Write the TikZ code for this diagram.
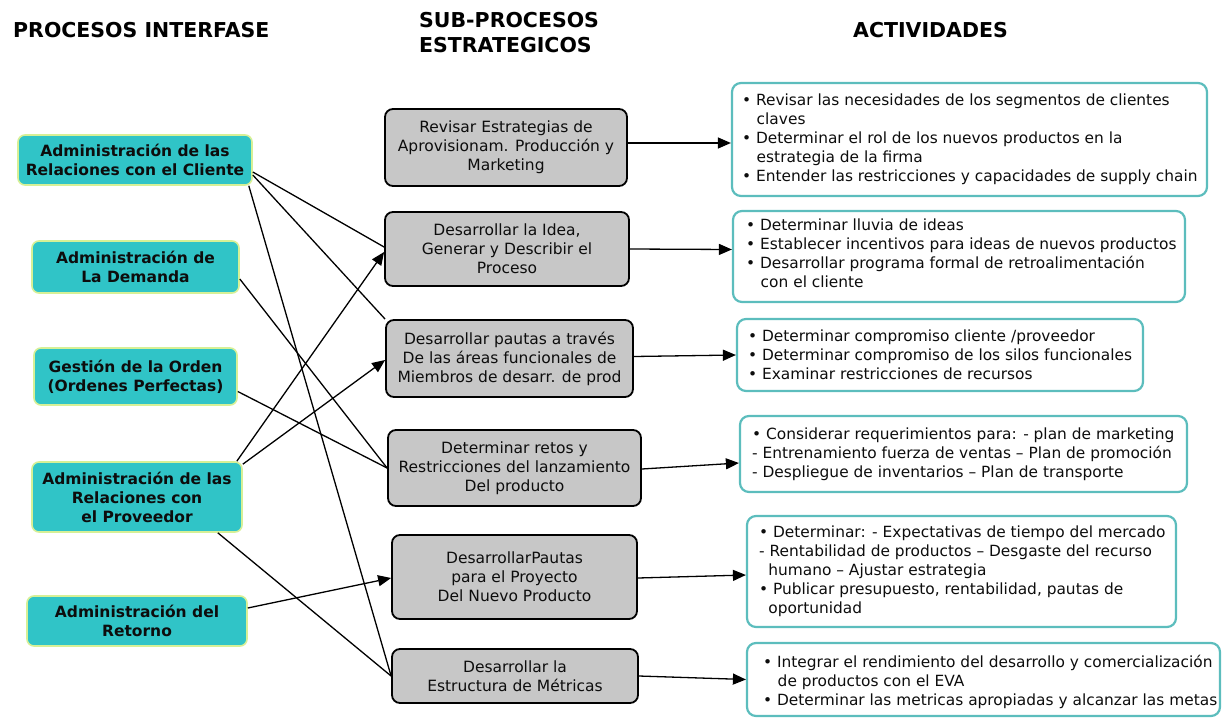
\documentclass[tikz,border=0pt]{standalone}
\usepackage{fontspec}
\setmainfont{DejaVu Sans}
\usetikzlibrary{arrows.meta}

\definecolor{tealfill}{RGB}{48,196,199}
\definecolor{tealglow}{RGB}{214,240,150}
\definecolor{greyfill}{RGB}{199,199,199}
\definecolor{actline}{RGB}{92,189,189}

\newcommand{\bul}{•\ }
\newcommand{\hang}{\hspace*{0.95em}}

\begin{document}
\begin{tikzpicture}[x=1pt,y=-1pt,
  interfase/.style={draw=tealglow, line width=1.6pt, fill=tealfill, rounded corners=7pt,
    align=center, font=\bfseries\fontsize{15.5}{19}\selectfont, inner sep=0pt, text=black!95},
  subproc/.style={draw=black, line width=1.8pt, fill=greyfill, rounded corners=8pt,
    align=center, font=\fontsize{15.5}{19}\selectfont, inner sep=0pt, text=black!95},
  actbox/.style={draw=actline, line width=2.2pt, rounded corners=9pt, fill=white, inner sep=0pt},
  acttext/.style={anchor=west, align=left, font=\fontsize{15.4}{19}\selectfont, inner sep=0pt, text=black!95},
  heading/.style={font=\bfseries\fontsize{20.5}{24.5}\selectfont, inner sep=0pt},
  link/.style={line width=1.3pt},
  flow/.style={line width=1.3pt, -{Triangle[length=13pt,width=11pt]}},
]
\useasboundingbox (0,0) rectangle (1225,717);

% column headings
\node[heading, anchor=west] (h1) at (13,30.5) {PROCESOS INTERFASE};
\node[heading, anchor=west, align=left] (h2) at (419,32.4) {SUB-PROCESOS\\ESTRATEGICOS};
\node[heading, anchor=west] (h3) at (853,30.5) {ACTIVIDADES};

% interface processes
\node[interfase, minimum width=234pt, minimum height=50pt] (l1) at (135,160)
  {Administración de las\\Relaciones con el Cliente};
\node[interfase, minimum width=207pt, minimum height=52pt] (l2) at (135.5,267)
  {Administración de\\La Demanda};
\node[interfase, minimum width=203pt, minimum height=57pt] (l3) at (135.5,376.5)
  {Gestión de la Orden\\(Ordenes Perfectas)};
\node[interfase, minimum width=210pt, minimum height=70pt] (l4) at (137,497)
  {Administración de las\\Relaciones con\\el Proveedor};
\node[interfase, minimum width=220pt, minimum height=50pt] (l5) at (137,621)
  {Administración del\\Retorno};

% strategic sub-processes
\node[subproc, minimum width=242pt, minimum height=77pt] (m1) at (506,147.5)
  {Revisar Estrategias de\\Aprovisionam. Producción y\\Marketing};
\node[subproc, minimum width=244pt, minimum height=74pt] (m2) at (507,249)
  {Desarrollar la Idea,\\Generar y Describir el\\Proceso};
\node[subproc, minimum width=247pt, minimum height=77pt] (m3) at (509.5,358.5)
  {Desarrollar pautas a través\\De las áreas funcionales de\\Miembros de desarr. de prod};
\node[subproc, minimum width=253pt, minimum height=76pt] (m4) at (514.5,468)
  {Determinar retos y\\Restricciones del lanzamiento\\Del producto};
\node[subproc, minimum width=245pt, minimum height=84pt] (m5) at (514.5,577)
  {DesarrollarPautas\\para el Proyecto\\Del Nuevo Producto};
\node[subproc, minimum width=246pt, minimum height=54pt] (m6) at (515,676)
  {Desarrollar la\\Estructura de Métricas};

% activity frames
\node[actbox, minimum width=475pt, minimum height=113pt] (r1) at (969.5,139.5) {};
\node[actbox, minimum width=452pt, minimum height=91pt] (r2) at (959,256.5) {};
\node[actbox, minimum width=406pt, minimum height=72pt] (r3) at (940,355) {};
\node[actbox, minimum width=447pt, minimum height=76pt] (r4) at (963.5,454) {};
\node[actbox, minimum width=429pt, minimum height=111pt] (r5) at (961.5,571.5) {};
\node[actbox, minimum width=473pt, minimum height=73pt] (r6) at (983.5,679.5) {};

% activity texts
\node[acttext] (r1t) at ([xshift=11pt]r1.west)
  {\bul Revisar las necesidades de los segmentos de clientes\\
   \hang claves\\
   \bul Determinar el rol de los nuevos productos en la\\
   \hang estrategia de la firma\\
   \bul Entender las restricciones y capacidades de supply chain};
\node[acttext] (r2t) at ([xshift=14pt,yshift=3.5pt]r2.west)
  {\bul Determinar lluvia de ideas\\
   \bul Establecer incentivos para ideas de nuevos productos\\
   \bul Desarrollar programa formal de retroalimentación\\
   \hang con el cliente};
\node[acttext] (r3t) at ([xshift=12pt]r3.west)
  {\bul Determinar compromiso cliente /proveedor\\
   \bul Determinar compromiso de los silos funcionales\\
   \bul Examinar restricciones de recursos};
\node[acttext] (r4t) at ([xshift=13pt]r4.west)
  {\bul Considerar requerimientos para: - plan de marketing\\
   - Entrenamiento fuerza de ventas – Plan de promoción\\
   - Despliegue de inventarios – Plan de transporte};
\node[acttext] (r5t) at ([xshift=13pt]r5.west)
  {\bul Determinar: - Expectativas de tiempo del mercado\\
   - Rentabilidad de productos – Desgaste del recurso\\
   \hspace*{0.6em}humano – Ajustar estrategia\\
   \bul Publicar presupuesto, rentabilidad, pautas de\\
   \hspace*{0.6em}oportunidad};
\node[acttext] (r6t) at ([xshift=17pt,yshift=-2pt]r6.west)
  {\bul Integrar el rendimiento del desarrollo y comercialización\\
   \hang de productos con el EVA\\
   \bul Determinar las metricas apropiadas y alcanzar las metas};

% links from interface processes to sub-processes
\draw[link] ([yshift=-12pt]l1.east) -- ([yshift=2pt]m2.west);
\draw[link] ([yshift=-15pt]l1.east) -- (m3.north west);
\draw[link] ([xshift=-4pt]l1.south east) -- (m6.west);
\draw[link] ([yshift=-12pt]l2.east) -- (m4.west);
\draw[link] ([yshift=-15pt]l3.east) -- (m4.west);
\draw[flow] ([xshift=-6pt]l4.north east) -- ([yshift=-3pt]m2.west);
\draw[flow] ([yshift=-3pt]l4.north east) -- ([yshift=-1.5pt]m3.west);
\draw[link] ([xshift=-25pt]l4.south east) -- (m6.west);
\draw[flow] ([yshift=13pt]l5.east) -- ([yshift=-1pt]m5.west);

% sub-processes to activities
\draw[flow] ([yshift=4.5pt]m1.east) -- ([yshift=-3.5pt]r1.west);
\draw[flow] (m2.east) -- ([yshift=7pt]r2.west);
\draw[flow] ([yshift=2pt]m3.east) -- (r3.west);
\draw[flow] ([yshift=-1pt]m4.east) -- ([yshift=-9pt]r4.west);
\draw[flow] ([yshift=-1pt]m5.east) -- ([yshift=-3.5pt]r5.west);
\draw[flow] (m6.east) -- (r6.west);
\end{tikzpicture}
\end{document}
